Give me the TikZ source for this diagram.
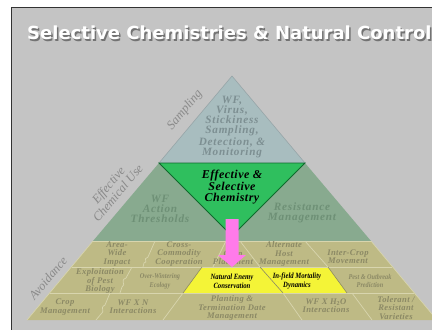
\documentclass[tikz,border=0pt]{standalone}
\usepackage{fontspec}
\setmainfont{Liberation Serif}
\newfontfamily\titlefont{DejaVu Sans}
\newfontfamily\cellfont{Liberation Serif}[LetterSpace=4.0]
\newfontfamily\widefont{Liberation Serif}[LetterSpace=7.0]
\newfontfamily\narrowfont{Liberation Serif}[FakeStretch=0.84]
\usetikzlibrary{positioning}
\definecolor{slidebg}{HTML}{C4C4C4}
\definecolor{topfill}{HTML}{A8BDBF}
\definecolor{topink}{HTML}{7D8F92}
\definecolor{chemgreen}{HTML}{2FBF5E}
\definecolor{chemedge}{HTML}{0E6A2C}
\definecolor{midfill}{HTML}{88AA8F}
\definecolor{midink}{HTML}{6E9076}
\definecolor{khaki}{HTML}{BEBA85}
\definecolor{khakiink}{HTML}{8B8965}
\definecolor{cellline}{HTML}{D8D5AE}
\definecolor{hotyellow}{HTML}{F4F437}
\definecolor{arrowpink}{HTML}{FF7BEA}
\definecolor{sideink}{HTML}{8A8A8A}

\begin{document}
\begin{tikzpicture}[x=1pt,y=-1pt,
  cell/.style={font=\cellfont\bfseries\itshape\fontsize{8.6}{8.3}\selectfont,
               text=khakiink, align=center, inner sep=0pt},
  smallcell/.style={cell, font=\narrowfont\bfseries\itshape\fontsize{7.4}{8.6}\selectfont},
  hotcell/.style={cell, font=\narrowfont\bfseries\itshape\fontsize{8}{9}\selectfont, text=black},
  bigcell/.style={cell, font=\widefont\bfseries\itshape\fontsize{11.2}{10}\selectfont},
  sidelabel/.style={font=\itshape\fontsize{12.5}{11}\selectfont, text=sideink,
                    rotate=50, align=center, inner sep=0pt},
  sepline/.style={draw=cellline, line width=0.7pt},
]
  \useasboundingbox (0,0) rectangle (432,330);
  \clip (0,0) rectangle (432,330);

  % slide frame
  \fill[white] (0,0) rectangle (432,330);
  \fill[slidebg] (11,7) rectangle (432,330);
  \draw[black!80, line width=1pt] (11,330) -- (11,7) -- (432,7);

  % title with shadow
  \node[anchor=base west, inner sep=0pt, text=black!55,
        font=\titlefont\bfseries\fontsize{18}{20}\selectfont] at (28.5,41)
    {Selective Chemistries \& Natural Control};
  \node[anchor=base west, inner sep=0pt, text=white,
        font=\titlefont\bfseries\fontsize{18}{20}\selectfont] (title) at (27,39.5)
    {Selective Chemistries \& Natural Control};

  % pyramid layers
  \fill[topfill] (232,76) -- (305,163) -- (159,163) -- cycle;
  \fill[midfill] (159,163) -- (305,163) -- (371,241) -- (93,241) -- cycle;
  \fill[khaki] (93,241) -- (371,241) -- (437,320) -- (27,320) -- cycle;
  \fill[hotyellow] (202,267) -- (328,267) -- (347,293) -- (183,293) -- cycle;
  \draw[topink!80, line width=0.6pt] (159,163) -- (232,76) -- (305,163);
  \filldraw[fill=chemgreen, draw=chemedge, line width=0.8pt]
    (159,163) -- (305,163) -- (232,236) -- cycle;

  % cell borders
  \draw[sepline] (93,241) -- (371,241);
  \draw[sepline] (72,267) -- (392,267);
  \draw[sepline] (50,293) -- (414,293);
  \draw[sepline] (93,241) -- (27,320);
  \draw[sepline] (371,241) -- (437,320);
  \draw[sepline] (155,241) -- (148,257) .. controls (142,259) and (149,262) .. (144,263) -- (143,267);
  \draw[sepline] (226,241) -- (213,267);
  \draw[sepline] (240,241) -- (260,267);
  \draw[sepline] (305,241) -- (328,267);
  \draw[sepline] (132,267) -- (126,278) .. controls (119,281) and (127,284) .. (122,287) -- (120,293);
  \draw[khakiink, line width=0.6pt] (202,267) -- (183,293);
  \draw[khakiink, line width=0.6pt] (260,267) -- (283,293);
  \draw[khakiink, line width=0.6pt] (328,267) -- (347,293);
  \draw[sepline] (110,293) -- (105,305) .. controls (99,308) and (106,311) .. (101,314) -- (96,320);
  \draw[sepline] (183,293) -- (163,320);
  \draw[sepline] (283,293) -- (302,320);
  \draw[sepline] (352,293) -- (372,320);

  % top and middle texts
  \node[bigcell, text=topink] (sampletxt) at (232,127)
    {WF,\\Virus,\\Stickiness\\Sampling,\\Detection, \&\\Monitoring};
  \node[bigcell, text=black, font=\cellfont\bfseries\itshape\fontsize{12}{10.5}\selectfont]
    (chemtxt) at (232,187) {Effective \&\\Selective\\Chemistry};
  \node[bigcell, text=midink] (thresh) at (160,209) {WF\\Action\\Thresholds};
  \node[bigcell, text=midink] (resist) at (302,213) {Resistance\\Management};

  % bottom layer texts
  \node[cell] (areawide)   at (117,254) {Area-\\Wide\\Impact};
  \node[cell] (crosscomm)  at (179,254) {Cross-\\Commodity\\Cooperation};
  \node[cell] (cropplace)  at (233,258) {Crop\\Placement};
  \node[cell] (althost)    at (284,254) {Alternate\\Host\\Management};
  \node[cell] (intercrop)  at (348,257) {Inter-Crop\\Movement};
  \node[cell] (exploit)    at (100,281) {Exploitation\\of Pest\\Biology};
  \node[smallcell] (overwinter) at (160,281) {Over-Wintering\\Ecology};
  \node[hotcell] (natenemy)  at (232,281) {Natural Enemy\\Conservation};
  \node[hotcell] (infield)   at (297,281) {In-field Mortality\\Dynamics};
  \node[smallcell] (pestpred) at (370,281) {Pest \& Outbreak\\Prediction};
  \node[cell] (cropmgmt)   at (65,307) {Crop\\Management};
  \node[cell] (wfxn)       at (133,307) {WF X N\\Interactions};
  \node[cell] (planting)   at (232,308) {Planting \&\\Termination Date\\Management};
  \node[cell] (wfxh2o)     at (326,306) {WF X H$_{\mathbf{2}}$O\\Interactions};
  \node[cell] (tolerant)   at (396,308) {Tolerant /\\Resistant\\Varieties};

  % side labels
  \node[sidelabel] (sampling)  at (185,110) {Sampling};
  \node[sidelabel] (chemuse)   at (113,189) {Effective\\Chemical Use};
  \node[sidelabel] (avoidance) at (48,278) {Avoidance};

  % pink arrow
  \fill[arrowpink] (225.5,219) -- (238.5,219) -- (238.5,255) -- (246,255)
    -- (232,267) -- (218,255) -- (225.5,255) -- cycle;
\end{tikzpicture}
\end{document}
